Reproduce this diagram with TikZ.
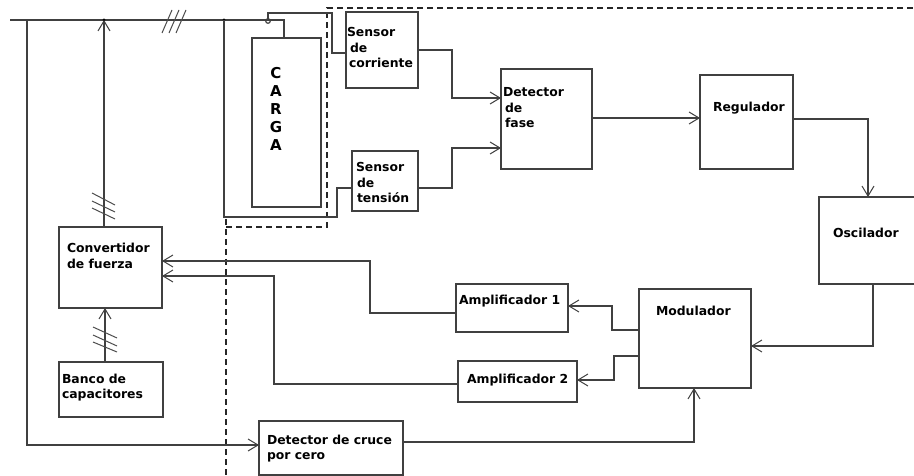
\documentclass[tikz,border=0pt]{standalone}
\usepackage{fontspec}
\setmainfont{DejaVu Sans}
\usetikzlibrary{arrows.meta}
\newcommand\mlines[1]{\begin{tabular}[t]{@{}l@{}}#1\end{tabular}}
\newcommand\clines[1]{\begin{tabular}[t]{@{}c@{}}#1\end{tabular}}
\begin{document}
\begin{tikzpicture}[x=1pt,y=-1pt,
  wire/.style={draw=black!75,line width=1.2pt},
  box/.style={wire,rectangle,inner sep=0pt,outer sep=0pt},
  arr/.style={wire,-{Straight Barb[length=10pt,width=12pt,line width=1pt]}},
  lbl/.style={inner sep=0pt,outer sep=0pt,anchor=base west,text=black,
    font=\fontsize{12.4}{15.5}\selectfont\bfseries},
  bigl/.style={inner sep=0pt,outer sep=0pt,anchor=base,text=black,
    font=\fontsize{15}{18}\selectfont\bfseries},
  dashline/.style={draw=black!85,line width=1.2pt,dash pattern=on 6pt off 4pt},
  slash/.style={draw=black!70,line width=1pt},
  dot/.style={circle,fill=black,inner sep=0pt,minimum size=3pt}]
\useasboundingbox (0,0) rectangle (914,476);
\fill[white] (0,0) rectangle (914,476);

% boxes
\node[box,minimum width=69pt,minimum height=169pt] (carga) at (286.5,122.5) {};
\node[box,minimum width=72pt,minimum height=76pt] (sc) at (382,50) {};
\node[box,minimum width=66pt,minimum height=60pt] (st) at (385,181) {};
\node[box,minimum width=91pt,minimum height=100pt] (df) at (546.5,119) {};
\node[box,minimum width=93pt,minimum height=94pt] (reg) at (746.5,122) {};
\node[box,minimum width=97pt,minimum height=87pt] (osc) at (867.5,240.5) {};
\node[box,minimum width=112pt,minimum height=99pt] (mod) at (695,338.5) {};
\node[box,minimum width=112pt,minimum height=48pt] (amp1) at (512,308) {};
\node[box,minimum width=119pt,minimum height=41pt] (amp2) at (517.5,381.5) {};
\node[box,minimum width=103pt,minimum height=81pt] (conv) at (110.5,267.5) {};
\node[box,minimum width=104pt,minimum height=55pt] (banco) at (111,389.5) {};
\node[box,minimum width=144pt,minimum height=54pt] (dcc) at (331,448) {};

% labels
\node[bigl] (tcarga) at (276,79) {\clines{C\\A\\R\\G\\A}};
\node[lbl] (tsc) at (347,37) {\mlines{Sensor\\\hspace{3pt}de\\\hspace{2pt}corriente}};
\node[lbl] (tst) at (356,172) {\mlines{Sensor\\\hspace{1pt}de\\\hspace{1pt}tensión}};
\node[lbl] (tdf) at (503,97) {\mlines{Detector\\\hspace{2pt}de\\\hspace{2pt}fase}};
\node[lbl] (treg) at (713,112) {Regulador};
\node[lbl] (tosc) at (833,238) {Oscilador};
\node[lbl] (tmod) at (656,316) {Modulador};
\node[lbl] (tamp1) at (459,304) {Amplificador 1};
\node[lbl] (tamp2) at (467,383) {Amplificador 2};
\node[lbl] (tconv) at (67,253) {\mlines{Convertidor\\de fuerza}};
\node[lbl] (tbanco) at (62,383) {\mlines{Banco de\\capacitores}};
\node[lbl] (tdcc) at (267,444) {\mlines{Detector de cruce\\por cero}};

% dashed boundary
\draw[dashline] (226,219) -- (226,476);
\draw[dashline] (226,227) -- (327,227) -- (327,8) -- (914,8);

% bus
\coordinate (busL) at (10,20);
\coordinate (j1) at (27,20);
\coordinate (j2) at (104,20);
\coordinate (j3) at (224,20);
\draw[wire] (busL) -- (284,20) -- (carga.north -| 284,0);
\node[dot] (d2) at (j2) {};
\node[dot] (d3) at (j3) {};

% left line to zero-cross detector
\draw[arr] (j1) |- (dcc.west |- 0,445);
% converter to bus
\draw[arr] (conv.north -| 104,0) -- (j2);
% capacitor bank to converter
\draw[arr] (banco.north -| 105,0) -- (conv.south -| 105,0);
% voltage sensing
\draw[wire] (j3) -- (224,217) -| (337,188) -- (st.west |- 0,188);
% current sensing
\draw[wire] (268,21) circle (2.3pt);
\draw[wire] (268,18.7) |- (332,13) |- (sc.west |- 0,53);
% sensors to phase detector
\draw[arr] (sc.east |- 0,50) -| (452,98) -- (df.west |- 0,98);
\draw[arr] (st.east |- 0,188) -| (452,148) -- (df.west |- 0,148);
% chain
\draw[arr] (df.east |- 0,118) -- (reg.west |- 0,118);
\draw[arr] (reg.east |- 0,119) -| (osc.north -| 868,0);
\draw[arr] (osc.south -| 873,0) |- (mod.east |- 0,346);
\draw[arr] (mod.west |- 0,330) -| (612,306) -- (amp1.east |- 0,306);
\draw[arr] (mod.west |- 0,356) -| (614,380) -- (amp2.east |- 0,380);
\draw[arr] (amp1.west |- 0,313) -| (370,261) -- (conv.east |- 0,261);
\draw[arr] (amp2.west |- 0,384) -| (274,276) -- (conv.east |- 0,276);
\draw[arr] (dcc.east |- 0,442) -| (mod.south -| 694,0);

% slashes
\draw[slash] (162,33) -- (172,10);
\draw[slash] (169,33) -- (179,10);
\draw[slash] (176,33) -- (186,10);
\draw[slash] (92,193) -- (115,205);
\draw[slash] (92,201) -- (115,212);
\draw[slash] (92,208) -- (115,219);
\draw[slash] (93,327) -- (117,338);
\draw[slash] (93,335) -- (117,346);
\draw[slash] (93,342) -- (117,352);
\end{tikzpicture}
\end{document}
